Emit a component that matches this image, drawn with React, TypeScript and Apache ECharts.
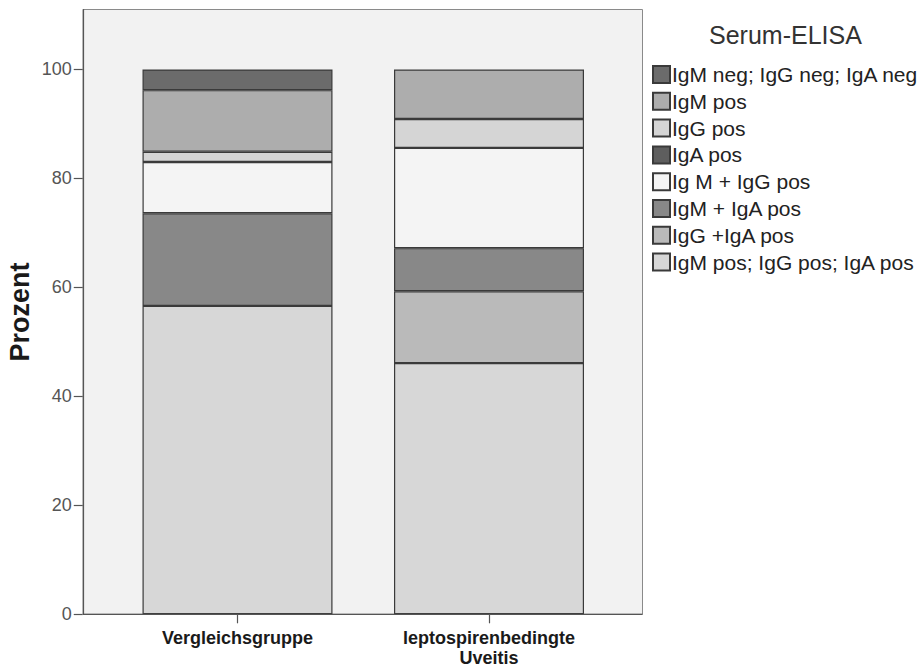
import React, { useEffect, useRef } from "react";
import * as echarts from "echarts";

const categories = ["Vergleichsgruppe", "leptospirenbedingte\nUveitis"];
// stacking order: bottom to top
const seriesNames = [
  "IgM pos; IgG pos; IgA pos",
  "IgG +IgA pos",
  "IgM + IgA pos",
  "Ig M + IgG pos",
  "IgA pos",
  "IgG pos",
  "IgM pos",
  "IgM neg; IgG neg; IgA neg",
];
const vergleichValues = [56.6, 0, 17.0, 9.4, 0, 1.9, 11.3, 3.8];
const uveitisValues = [46.1, 13.2, 7.9, 18.4, 0, 5.3, 9.1, 0];
const yTicks = [0, 20, 40, 60, 80, 100];
const legendOrder = [
  "IgM neg; IgG neg; IgA neg",
  "IgM pos",
  "IgG pos",
  "IgA pos",
  "Ig M + IgG pos",
  "IgM + IgA pos",
  "IgG +IgA pos",
  "IgM pos; IgG pos; IgA pos",
];
const seriesColors = ["#d7d7d7", "#bababa", "#888888", "#f4f4f4", "#5e5e5e", "#d5d5d5", "#adadad", "#6b6b6b"];

const FONT = "'Liberation Sans', Arial, sans-serif";

export default function App() {
  const ref = useRef<HTMLDivElement>(null);
  useEffect(() => {
    if (!ref.current) return;
    const chart = echarts.init(ref.current, null, { renderer: "svg" });
    const series = seriesNames.map((name, i) => ({
      name,
      type: "bar",
      stack: "total",
      barWidth: 190,
      data: [vergleichValues[i], uveitisValues[i]].map((v) => (v === 0 ? null : v)),
      itemStyle: { color: seriesColors[i], borderColor: "#3a3a3a", borderWidth: 1.2 },
      emphasis: { disabled: true },
    }));
    chart.setOption({
      animation: false,
      backgroundColor: "#ffffff",
      textStyle: { fontFamily: FONT },
      title: {
        text: "Serum-ELISA",
        left: 704,
        top: 17,
        textStyle: { fontFamily: FONT, fontSize: 25, fontWeight: "normal", color: "#333" },
      },
      legend: {
        orient: "vertical",
        left: 647,
        top: 59,
        data: legendOrder,
        icon: "rect",
        itemWidth: 17,
        itemHeight: 17,
        itemGap: 5.8,
        selectedMode: false,
        textStyle: { fontFamily: FONT, fontSize: 21, color: "#222", lineHeight: 20, padding: [0, 0, 0, -3] },
      },
      graphic: [
        {
          type: "rect",
          shape: { x: 83, y: 9.5, width: 559.5, height: 604.8 },
          style: { fill: "#f2f2f2", stroke: "#8a8a8a", lineWidth: 1 },
          z: -10,
          silent: true,
        },
        {
          type: "line",
          shape: { x1: 83, y1: 614.3, x2: 642.5, y2: 614.3 },
          style: { stroke: "#555", lineWidth: 1.2 },
          z: 10,
          silent: true,
        },
      ],
      grid: { left: 111.75, right: 306.25, top: 9.5, bottom: 54.7, containLabel: false, outerBoundsMode: "none" },
      xAxis: {
        type: "category",
        data: categories,
        axisLine: { show: false },
        axisTick: { show: true, alignWithLabel: true, length: 9, lineStyle: { color: "#555", width: 1.2 } },
        axisLabel: {
          fontFamily: FONT,
          fontSize: 18,
          fontWeight: "bold",
          color: "#1a1a1a",
          margin: 14,
          lineHeight: 20,
          interval: 0,
        },
      },
      yAxis: {
        type: "value",
        min: 0,
        max: 111,
        interval: 20,
        offset: 29,
        name: "Prozent",
        nameLocation: "middle",
        nameGap: 49,
        nameMoveOverlap: false,
        nameTextStyle: { fontFamily: FONT, fontSize: 27, fontWeight: "bold", color: "#1a1a1a" },
        splitLine: { show: false },
        axisLine: { show: true, lineStyle: { color: "#555", width: 1.2 } },
        axisTick: { show: true, length: 9, customValues: yTicks, lineStyle: { color: "#555", width: 1.2 } },
        axisLabel: {
          fontFamily: FONT,
          fontSize: 18,
          color: "#555",
          margin: 11,
          customValues: yTicks,
        },
      },
      series,
    });
    return () => chart.dispose();
  }, []);
  return <div ref={ref} style={{ width: 921, height: 669, position: "absolute", left: 0, top: 0 }} />;
}
